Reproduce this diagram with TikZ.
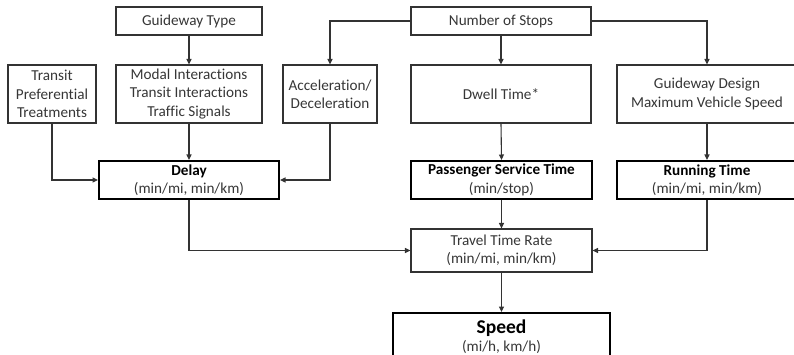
\documentclass[tikz,border=0pt]{standalone}
\usepackage{fontspec}
\setmainfont{Carlito}[Ligatures=NoCommon]
\usetikzlibrary{arrows.meta}
\definecolor{txtgray}{HTML}{363636}
\definecolor{linegray}{HTML}{333333}
\tikzset{
  box/.style={draw=linegray, line width=1.1pt, rectangle, inner sep=0pt, align=center,
    text=txtgray, font=\fontsize{15.2}{18.3}\selectfont},
  thickbox/.style={box, draw=black, line width=2pt},
  conn/.style={draw=linegray, line width=1.1pt, -{Triangle[length=5.5pt,width=5pt]}},
  plain/.style={draw=linegray, line width=1.1pt}
}
\begin{document}
\begin{tikzpicture}[x=1pt,y=-1pt]
\useasboundingbox (0,0) rectangle (794,355);
\clip (0,0) rectangle (794,355);
% top row
\node[box, minimum width=146pt, minimum height=28pt] (gt) at (189,21) {Guideway Type};
\node[box, minimum width=180pt, minimum height=28pt] (ns) at (501,21) {Number of Stops};
% middle row
\node[box, minimum width=88pt, minimum height=58pt] (tp) at (52,94) {Transit\\Preferential\\Treatments};
\node[box, minimum width=146pt, minimum height=58pt] (mi) at (189,94) {Modal Interactions\\Transit Interactions\\Traffic Signals};
\node[box, minimum width=94pt, minimum height=58pt] (ac) at (330,94) {Acceleration/\\Deceleration};
\node[box, minimum width=180pt, minimum height=58pt] (dw) at (501,94) {Dwell Time*};
\node[box, minimum width=180pt, minimum height=58pt] (gd) at (707,94) {Guideway Design\\Maximum Vehicle Speed};
% result row
\node[thickbox, minimum width=180pt, minimum height=38pt] (de) at (189,180) {{\color{black}\bfseries Delay}\\(min/mi, min/km)};
\node[thickbox, minimum width=181pt, minimum height=38pt] (ps) at (501.5,180) {{\color{black}\bfseries Passenger Service Time}\\(min/stop)};
\node[thickbox, minimum width=180pt, minimum height=38pt] (rt) at (707,180) {{\color{black}\bfseries Running Time}\\(min/mi, min/km)};
% travel time rate
\node[box, minimum width=181pt, minimum height=43pt] (tt) at (501.5,250.5) {Travel Time Rate\\(min/mi, min/km)};
% speed
\node[thickbox, minimum width=217pt, minimum height=48pt] (sp) at (501.5,337) {{\color{black}\bfseries\fontsize{19.5}{22}\selectfont Speed}\\(mi/h, km/h)};
% connectors
\draw[conn] (gt.south) -- (mi.north);
\draw[conn] (ns.west) -| (ac.north);
\draw[conn] (ns.south) -- (dw.north);
\draw[conn] (ns.east) -| (gd.north);
\draw[conn] (tp.south) |- (de.west);
\draw[conn] (ac.south) |- (de.east);
\draw[conn] (mi.south) -- (de.north);
\draw[conn] (dw.south) -- (ps.north);
\draw[conn] (gd.south) -- (rt.north);
\draw[conn] (de.south) |- (tt.west);
\draw[conn] (ps.south) -- (tt.north);
\draw[conn] (rt.south) |- (tt.east);
\draw[conn] (tt.south) -- (sp.north);
\end{tikzpicture}
\end{document}
